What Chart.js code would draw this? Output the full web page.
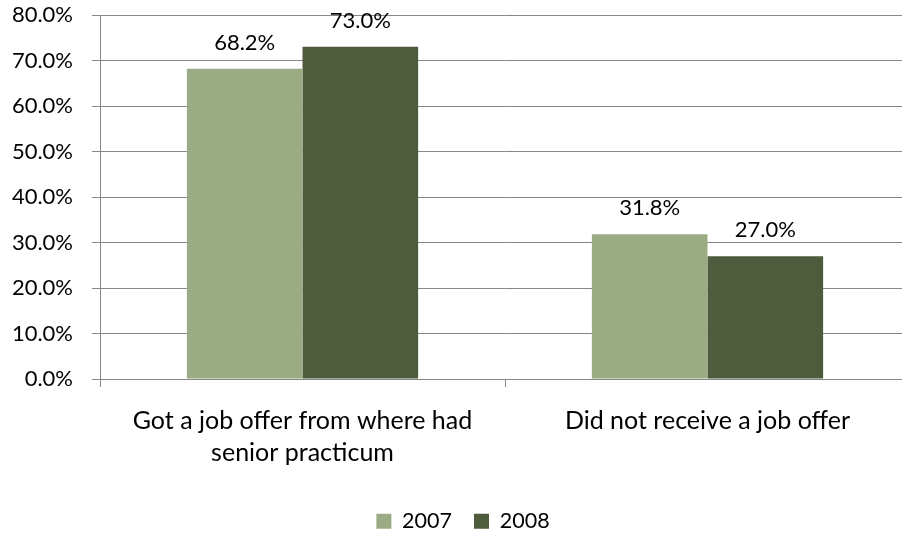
<!DOCTYPE html>
<html><head><meta charset="utf-8">
<script src="https://cdn.jsdelivr.net/npm/chart.js@4"></script>
<style>
html,body{margin:0;padding:0;background:#fff;overflow:hidden;width:902px;height:535px;}
#wrap{position:relative;width:911px;height:535px;}
</style></head><body><div id="wrap"><canvas id="c"></canvas></div>
<script>
const categories = [["Got a job offer from where had", "senior practicum"], "Did not receive a job offer"];
const seriesNames = ["2007", "2008"];
const values2007 = [68.2, 31.8];
const values2008 = [73.0, 27.0];
const yMin = 0, yMax = 80, yStep = 10;

const FONT = "Lato";
const FS_NUM = 22;
const FS_CAT = 25;
const FS_LEG = 21.5;
const GRID = "#868686";

const valueLabels = {
  id: "valueLabels",
  afterLayout(chart) {
    if (chart.legend) { chart.legend.left += 8; chart.legend.right += 8; }
  },
  afterDatasetsDraw(chart) {
    const ctx = chart.ctx;
    ctx.save();
    ctx.font = FS_NUM + "px " + FONT;
    ctx.fillStyle = "#000";
    ctx.textAlign = "center";
    ctx.textBaseline = "alphabetic";
    chart.data.datasets.forEach((ds, i) => {
      chart.getDatasetMeta(i).data.forEach((bar, j) => {
        ctx.fillText(ds.data[j].toFixed(1) + "%", bar.x, bar.y - 19);
      });
    });
    ctx.restore();
  }
};

new Chart(document.getElementById("c"), {
  type: "bar",
  data: {
    labels: categories,
    datasets: [
      { label: seriesNames[0], data: values2007, backgroundColor: "#9BAB83" },
      { label: seriesNames[1], data: values2008, backgroundColor: "#4F5B3D" }
    ]
  },
  options: {
    responsive: true,
    maintainAspectRatio: false,
    animation: false,
    datasets: { bar: { categoryPercentage: 0.571, barPercentage: 1 } },
    layout: { padding: { top: 15, right: 1, left: 0, bottom: -7 } },
    plugins: {
      tooltip: { enabled: false },
      legend: {
        position: "bottom",
        labels: {
          font: { family: FONT, size: FS_LEG },
          color: "#000",
          boxWidth: 15, boxHeight: 15,
          padding: 22
        }
      }
    },
    scales: {
      x: {
        offset: true,
        grid: { display: true, drawOnChartArea: false, drawTicks: true, tickLength: 8, offset: true, color: GRID, lineWidth: 1 },
        border: { display: true, color: GRID, width: 1 },
        ticks: { font: { family: FONT, size: FS_CAT, lineHeight: 1.28 }, color: "#000", padding: 18, maxRotation: 0, autoSkip: false },
        afterFit(scale) { scale.height = 109.5; scale.paddingLeft = 0; scale.paddingRight = 0; }
      },
      y: {
        min: yMin, max: yMax,
        ticks: { stepSize: yStep, font: { family: FONT, size: FS_NUM }, color: "#000", padding: 19,
          callback: v => v.toFixed(1) + "%" },
        grid: { color: GRID, lineWidth: 1, tickLength: 8, drawTicks: true },
        border: { display: true, color: GRID, width: 1 },
        afterFit(scale) { scale.width = 100; scale.paddingTop = 0; scale.paddingBottom = 0; }
      }
    }
  },
  plugins: [valueLabels]
});
</script>
</body></html>
